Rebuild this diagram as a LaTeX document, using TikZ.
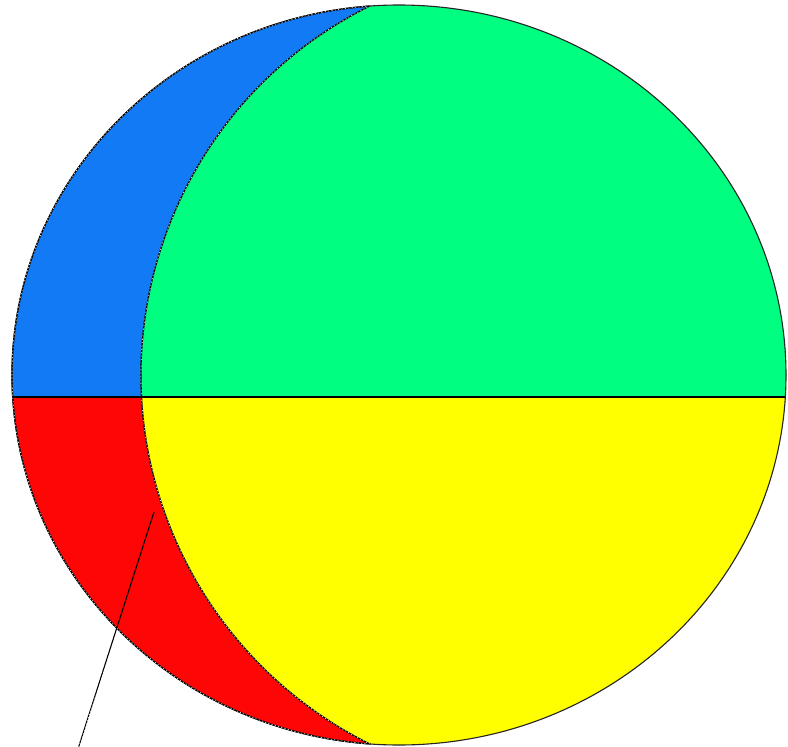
\documentclass[tikz,border=0pt]{standalone}
\definecolor{cblue}{RGB}{18,122,245}
\definecolor{cred}{RGB}{255,6,6}
\definecolor{cgreen}{RGB}{0,255,128}
\definecolor{cyellow}{RGB}{255,255,0}
\begin{document}
\begin{tikzpicture}[x=1pt,y=1pt,
  outline/.style={draw=black, line width=1.3pt},
  thinout/.style={draw=black!85, line width=1.1pt},
  marquee/.style={draw=white, line width=0.55pt, dash pattern=on 1.2pt off 2.2pt},
  divider/.style={draw=black, line width=1.6pt}]
\useasboundingbox (0,0) rectangle (788,-747);
\fill[white] (0,0) rectangle (788,-747);
% coloured regions
\begin{scope}
  \clip (399,-375) ellipse [x radius=387pt, y radius=370pt];
  \fill[cblue] (0,0) rectangle (788,-397);
  \fill[cred] (0,-397) rectangle (788,-747);
  \clip (553,-375) circle [radius=412pt];
  \fill[cgreen] (0,0) rectangle (788,-397);
  \fill[cyellow] (0,-397) rectangle (788,-747);
\end{scope}
% outer outline
\draw[thinout] (399,-375) ellipse [x radius=387pt, y radius=370pt];
% crescent outer edge (marquee look)
\draw[outline] (369.64,-6.07) arc[start angle=94.35, end angle=265.65, x radius=387pt, y radius=370pt];
\draw[marquee] (369.64,-6.07) arc[start angle=94.35, end angle=265.65, x radius=387pt, y radius=370pt];
% crescent inner edge
\draw[outline] (370.47,-5.65) arc[start angle=116.3, end angle=243.7, radius=412pt];
\draw[marquee] (370.47,-5.65) arc[start angle=116.3, end angle=243.7, radius=412pt];
% horizontal divider
\coordinate (hl) at (12.7,-397);
\coordinate (hr) at (785.3,-397);
\draw[divider] (hl) -- (hr);
% pointer line
\coordinate (ptop) at (154,-512);
\coordinate (pedge) at (118,-630);
\coordinate (pend) at (77,-752);
\draw[black, line width=1.1pt] (ptop) -- (pend);
\draw[marquee] (pedge) -- (pend);
\end{tikzpicture}
\end{document}
